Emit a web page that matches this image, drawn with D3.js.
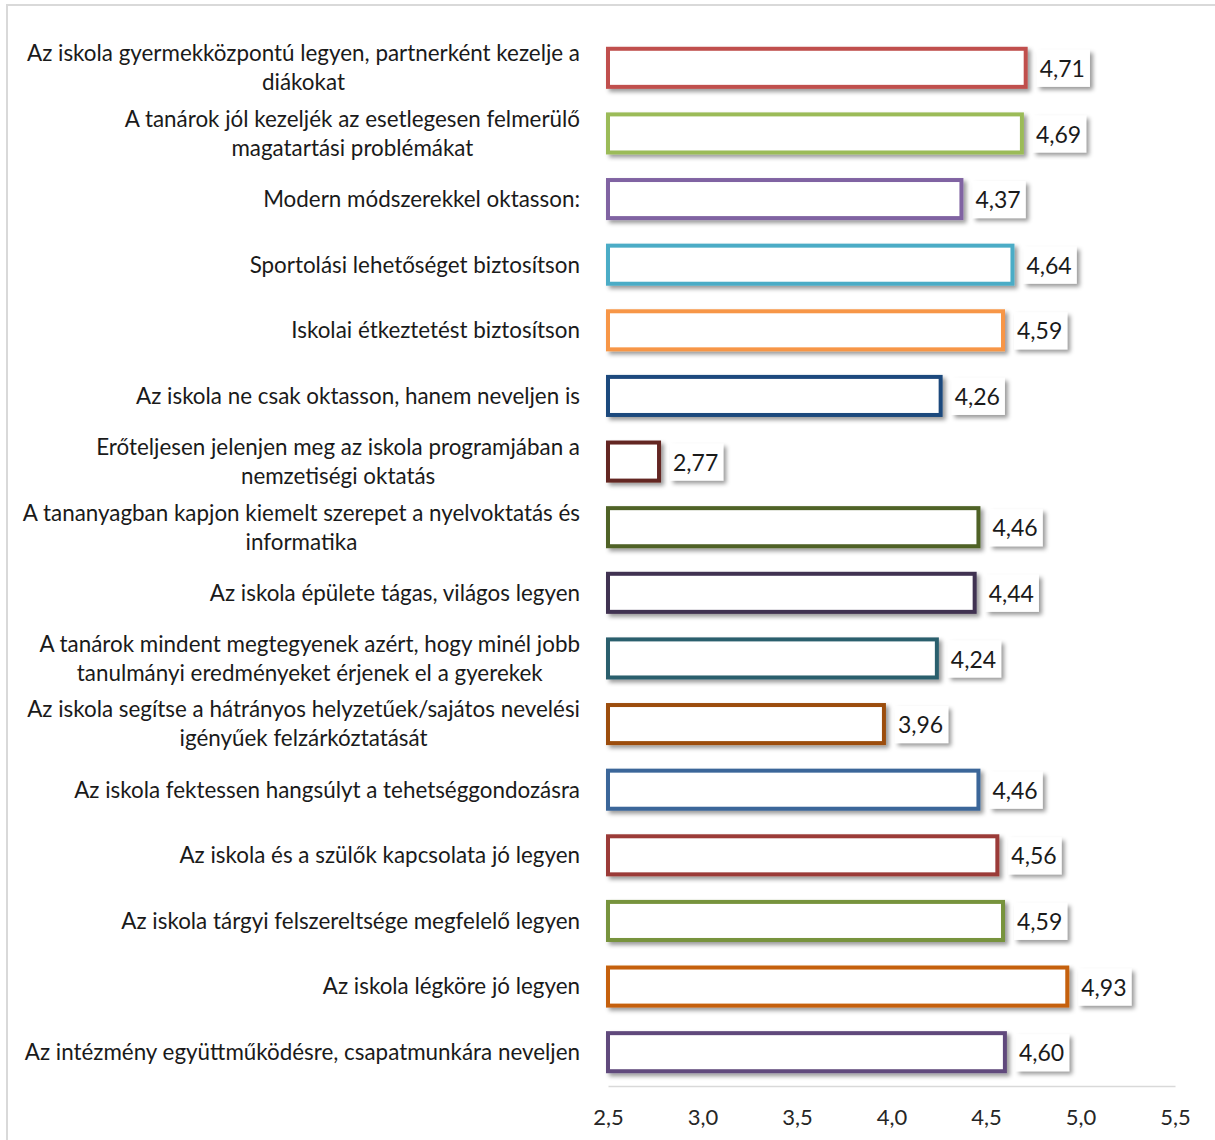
<!DOCTYPE html>
<html>
<head>
<meta charset="utf-8">
<script src="https://cdn.jsdelivr.net/npm/d3@7"></script>
<style>
  body { margin: 0; background: #fff; }
  svg { display: block; font-family: Lato, "Open Sans", sans-serif; }
</style>
</head>
<body>
<svg id="chart" width="1215" height="1140"></svg>
<script>
// categories, top to bottom ("\n" = line break as in the original)
var categories = [
  "Az iskola gyermekközpontú legyen, partnerként kezelje a\ndiákokat",
  "A tanárok jól kezeljék az esetlegesen felmerülő\nmagatartási problémákat",
  "Modern módszerekkel oktasson:",
  "Sportolási lehetőséget biztosítson",
  "Iskolai étkeztetést biztosítson",
  "Az iskola ne csak oktasson, hanem neveljen is",
  "Erőteljesen jelenjen meg az iskola programjában a\nnemzetiségi oktatás",
  "A tananyagban kapjon kiemelt szerepet a nyelvoktatás és\ninformatika",
  "Az iskola épülete tágas, világos legyen",
  "A tanárok mindent megtegyenek azért, hogy minél jobb\ntanulmányi eredményeket érjenek el a gyerekek",
  "Az iskola segítse a hátrányos helyzetűek/sajátos nevelési\nigényűek felzárkóztatását",
  "Az iskola fektessen hangsúlyt a tehetséggondozásra",
  "Az iskola és a szülők kapcsolata jó legyen",
  "Az iskola tárgyi felszereltsége megfelelő legyen",
  "Az iskola légköre jó legyen",
  "Az intézmény együttműködésre, csapatmunkára neveljen"
];
var values = [4.71, 4.69, 4.37, 4.64, 4.59, 4.26, 2.77, 4.46, 4.44, 4.24, 3.96, 4.46, 4.56, 4.59, 4.93, 4.60];
var barColors = ["#c0504d", "#9bbb59", "#8064a2", "#4bacc6", "#f79646", "#1f497d", "#632523", "#4f6228",
                 "#3f3151", "#2b5f6d", "#9c4e0c", "#3b6699", "#9b3b38", "#77933c", "#c5600e", "#604a7b"];
var xTicks = [2.5, 3.0, 3.5, 4.0, 4.5, 5.0, 5.5];

var svg = d3.select("#chart");
var fmt = function(v, d) { return v.toFixed(d).replace(".", ","); };

var defs = svg.append("defs");
var f = defs.append("filter").attr("id", "shadow")
  .attr("x", "-10%").attr("y", "-30%").attr("width", "130%").attr("height", "180%");
f.append("feDropShadow").attr("dx", 3).attr("dy", 3).attr("stdDeviation", 2)
  .attr("flood-color", "#000").attr("flood-opacity", 0.4);

// outer chart frame
svg.append("rect").attr("x", 7).attr("y", 5).attr("width", 1260).attr("height", 1200)
  .attr("fill", "none").attr("stroke", "#d9d9d9").attr("stroke-width", 2);

var x = d3.scaleLinear().domain([2.5, 5.5]).range([608, 1175]);
var y = d3.scaleBand().domain(categories).range([35, 1085]).paddingInner(0.42).paddingOuter(0.21);

// axis
var axis = svg.append("g").attr("transform", "translate(0,1086)")
  .call(d3.axisBottom(x).tickValues(xTicks).tickSize(0).tickPadding(23).tickFormat(function(d) { return fmt(d, 1); }));
axis.select(".domain").attr("stroke", "#d9d9d9").attr("stroke-width", 1.5);
axis.selectAll("text").attr("font-size", 22).attr("fill", "#262626").attr("font-family", "Lato, sans-serif");

// bars
svg.append("g").selectAll("rect").data(values).enter().append("rect")
  .attr("x", x(2.5))
  .attr("y", function(d, i) { return y(categories[i]); })
  .attr("width", function(d) { return x(d) - x(2.5); })
  .attr("height", y.bandwidth())
  .attr("fill", "#fff")
  .attr("stroke", function(d, i) { return barColors[i]; })
  .attr("stroke-width", 4)
  .attr("filter", "url(#shadow)");

// value labels with white box
var lab = svg.append("g").selectAll("g").data(values).enter().append("g")
  .attr("transform", function(d, i) { return "translate(" + (x(d) + 11) + "," + (y(categories[i]) + y.bandwidth() / 2) + ")"; });
lab.append("rect").attr("class", "box");
lab.append("text")
  .attr("x", 3)
  .attr("y", 1)
  .attr("dy", "0.35em")
  .attr("font-size", 23)
  .attr("fill", "#1a1a1a")
  .text(function(d) { return fmt(d, 2); });
lab.each(function() {
  var g = d3.select(this);
  var w = g.select("text").node().getComputedTextLength();
  g.select(".box").attr("x", 0).attr("y", -18).attr("width", w + 8).attr("height", 37)
    .attr("fill", "#fff").attr("filter", "url(#shadow)");
});

// category labels, right aligned block, lines centred within block
var catG = svg.append("g").selectAll("text").data(categories).enter().append("text")
  .attr("font-size", 22.4)
  .attr("fill", "#1a1a1a")
  .attr("text-anchor", "middle");
catG.each(function(d) {
  var t = d3.select(this);
  var lines = d.split("\n");
  var cy = y(d) + y.bandwidth() / 2;
  var lh = 29;
  lines.forEach(function(line, k) {
    t.append("tspan").attr("y", cy + (k - (lines.length - 1) / 2) * lh).attr("dy", "0.35em").text(line);
  });
  var maxW = 0;
  t.selectAll("tspan").each(function() { maxW = Math.max(maxW, this.getComputedTextLength()); });
  t.selectAll("tspan").attr("x", 580 - maxW / 2);
});
</script>
</body>
</html>
